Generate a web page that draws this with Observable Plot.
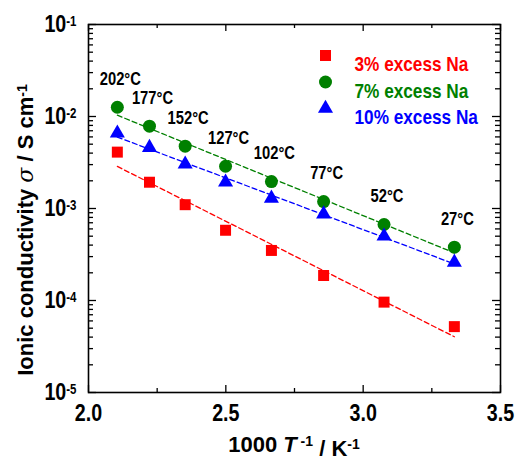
<!DOCTYPE html>
<html><head><meta charset="utf-8">
<script src="https://cdn.jsdelivr.net/npm/d3@7"></script>
<script src="https://cdn.jsdelivr.net/npm/@observablehq/plot@0.6"></script>
<style>
body{margin:0;background:#fff}
</style>
</head><body><div id="chart"></div>
<script>
// --- data ---
const tempLabels = ["202°C","177°C","152°C","127°C","102°C","77°C","52°C","27°C"];
const invT    = [2.105, 2.222, 2.352, 2.499, 2.666, 2.856, 3.076, 3.332];
const sigma3  = [4.1e-3, 1.93e-3, 1.10e-3, 5.8e-4, 3.5e-4, 1.87e-4, 9.6e-5, 5.2e-5];
const sigma7  = [1.26e-2, 7.85e-3, 4.76e-3, 2.88e-3, 1.96e-3, 1.19e-3, 6.7e-4, 3.8e-4];
const sigma10 = [6.6e-3, 4.6e-3, 3.03e-3, 1.93e-3, 1.29e-3, 8.7e-4, 5.0e-4, 2.6e-4];
const seriesNames   = ["3% excess Na", "7% excess Na", "10% excess Na"];
const seriesColors  = ["#ff0000", "#008000", "#0000ff"];
const seriesSymbols = ["square", "circle", "triangle"];
const seriesR       = [6.2, 6.5, 5.6];
const xTicks      = [2.0, 2.5, 3.0, 3.5];
const xTickLabels = ["2.0", "2.5", "3.0", "3.5"];
const xMinorTicks = [2.25, 2.75, 3.25];
const yTicks      = [1e-5, 1e-4, 1e-3, 1e-2, 1e-1];
const yTickExps   = ["-5", "-4", "-3", "-2", "-1"];

const seriesValues = [sigma3, sigma7, sigma10];
const yMinorTicks = yTicks.slice(0, -1).flatMap(d => [2,3,4,5,6,7,8,9].map(k => k * d));

// least-squares fit of log10(sigma) vs 1000/T (Arrhenius line)
function arrheniusFit(ys) {
  const lx = invT, ly = ys.map(Math.log10);
  const mx = d3.mean(lx), my = d3.mean(ly);
  const b = d3.sum(lx, (x, i) => (x - mx) * (ly[i] - my)) / d3.sum(lx, x => (x - mx) ** 2);
  const a = my - b * mx;
  const ends = [lx[0], lx[lx.length - 1]];
  return ends.map(x => ({x, y: Math.pow(10, a + b * x)}));
}

const FONT = '"Liberation Sans",Arial,sans-serif';
const W = 523, H = 457, ML = 88, MR = 23, MT = 24, MB = 65;
const PW = W - ML - MR, PH = H - MT - MB;

const marks = [];
// fit lines
seriesValues.forEach((ys, s) => {
  marks.push(Plot.line(arrheniusFit(ys), {x: "x", y: "y", stroke: seriesColors[s], strokeWidth: 1.3, strokeDasharray: "5,3"}));
});
// data points
seriesValues.forEach((ys, s) => {
  marks.push(Plot.dot(invT, {x: d => d, y: (d, i) => ys[i], symbol: seriesSymbols[s], fill: seriesColors[s], r: seriesR[s], stroke: "none"}));
});
// temperature annotations above the 7% series
marks.push(Plot.text(invT, {x: d => d, y: (d, i) => sigma7[i], text: (d, i) => tempLabels[i], dy: -28, dx: 3, fontSize: 18, fontWeight: "bold", fill: "black"}));
// legend
seriesNames.forEach((name, s) => {
  marks.push(Plot.dot([name], {frameAnchor: "top-left", dx: 237, dy: 31 + s * 26.5, symbol: seriesSymbols[s], fill: seriesColors[s], r: seriesR[s]}));
  marks.push(Plot.text([name], {frameAnchor: "top-left", dx: 266, dy: 32 + s * 26.5, text: d => d, fill: seriesColors[s], fontSize: 21, fontWeight: "bold", textAnchor: "start"}));
});
// inward ticks on all four sides
const ts = {stroke: "black", strokeWidth: 1.3};
marks.push(
  Plot.tickX(xTicks,      {x: d => d, insetTop: PH - 7, ...ts}),
  Plot.tickX(xMinorTicks, {x: d => d, insetTop: PH - 4, ...ts}),
  Plot.tickX(xTicks,      {x: d => d, insetBottom: PH - 7, ...ts}),
  Plot.tickX(xMinorTicks, {x: d => d, insetBottom: PH - 4, ...ts}),
  Plot.tickY(yTicks,      {y: d => d, insetRight: PW - 8, ...ts}),
  Plot.tickY(yMinorTicks, {y: d => d, insetRight: PW - 5, ...ts}),
  Plot.tickY(yTicks,      {y: d => d, insetLeft: PW - 8, ...ts}),
  Plot.tickY(yMinorTicks, {y: d => d, insetLeft: PW - 5, ...ts}),
  Plot.axisX({anchor: "bottom", ticks: xTicks, tickSize: 0, tickPadding: 11, tickFormat: d => xTickLabels[xTicks.indexOf(d)], label: null, fontSize: 24, fontWeight: "bold"}),
  Plot.axisY({anchor: "left", ticks: yTicks, tickSize: 0, tickPadding: 12, tickFormat: d => "10^" + yTickExps[yTicks.indexOf(d)], label: null, fontSize: 24, fontWeight: "bold"}),
  Plot.frame({stroke: "black", strokeWidth: 1.6})
);

const svg = Plot.plot({
  width: W, height: H,
  marginLeft: ML, marginRight: MR, marginTop: MT, marginBottom: MB,
  x: {domain: [2.0, 3.5]},
  y: {type: "log", domain: [1e-5, 1e-1]},
  style: {fontFamily: FONT, background: "white", color: "black"},
  marks
});

const sel = d3.select(svg);
// superscript exponents on y tick labels
sel.selectAll('g[aria-label="y-axis tick label"] text').each(function () {
  const s = this.textContent;
  if (!s.includes("^")) return;
  const [base, exp] = s.split("^");
  const t = d3.select(this);
  t.text(null);
  t.append("tspan").text(base);
  t.append("tspan").attr("dy", "-0.42em").attr("font-size", "14px").text(exp);
});
// the reference uses a condensed face: squeeze these texts horizontally
sel.selectAll('g[aria-label="text"] text, g[aria-label="x-axis tick label"] text, g[aria-label="y-axis tick label"] text').each(function () {
  const tr = this.getAttribute("transform") || "";
  this.setAttribute("transform", tr + " scale(0.82,1)");
});

// axis titles
const xl = sel.append("text").attr("x", 294).attr("y", 452).attr("text-anchor", "middle")
  .attr("font-family", FONT).attr("font-size", 22).attr("font-weight", "bold").attr("fill", "black");
xl.append("tspan").text("1000 ");
xl.append("tspan").attr("font-style", "italic").text("T");
xl.append("tspan").attr("dy", "-0.45em").attr("font-size", "14px").text(" -1");
xl.append("tspan").attr("dy", "0.45em").text(" / K");
xl.append("tspan").attr("dy", "-0.45em").attr("font-size", "14px").text("-1");

const yl = sel.append("text").attr("transform", "translate(33,230) rotate(-90)").attr("text-anchor", "middle")
  .attr("font-family", FONT).attr("font-size", 22).attr("font-weight", "bold").attr("fill", "black");
yl.append("tspan").text("Ionic conductivity ");
yl.append("tspan").attr("font-style", "italic").attr("font-weight", "normal").attr("font-family", '"DejaVu Serif","Liberation Serif",serif').text("σ");
yl.append("tspan").text(" / S cm");
yl.append("tspan").attr("dy", "-0.45em").attr("font-size", "14px").text("-1");

document.getElementById("chart").appendChild(svg);
</script>
</body></html>
